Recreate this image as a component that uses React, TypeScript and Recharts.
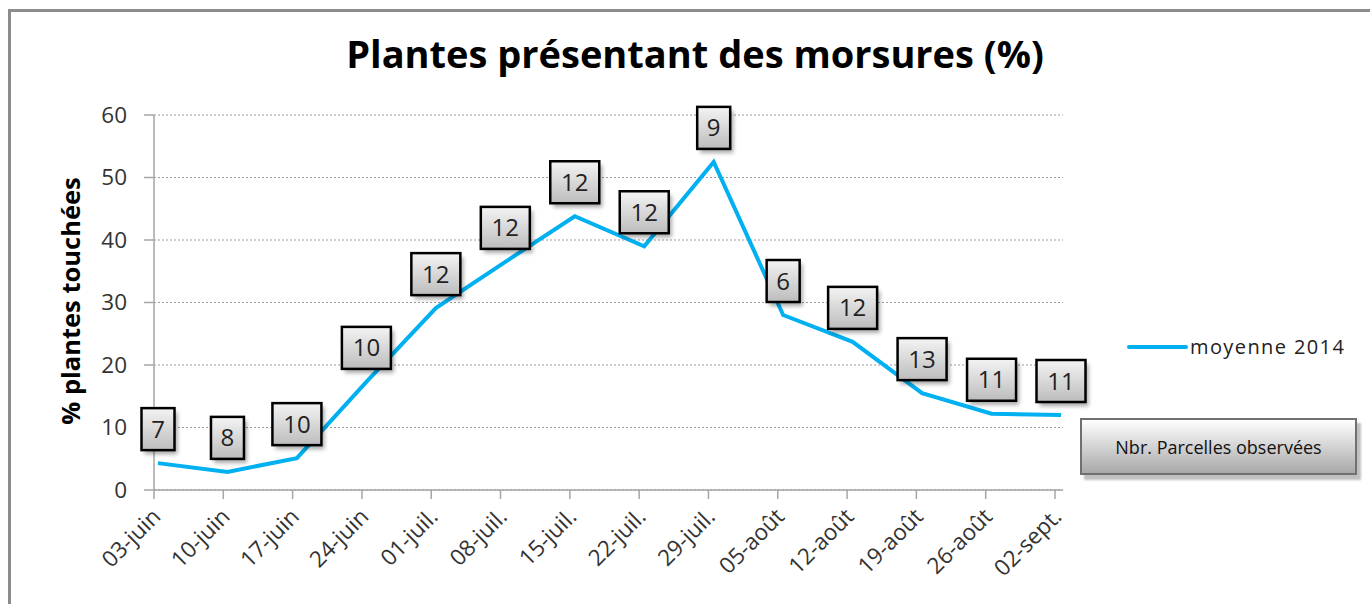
import React from "react";
import { LineChart, Line, XAxis, YAxis, CartesianGrid, LabelList } from "recharts";

const dates = ["03-juin", "10-juin", "17-juin", "24-juin", "01-juil.", "08-juil.", "15-juil.", "22-juil.", "29-juil.", "05-août", "12-août", "19-août", "26-août", "02-sept."];
const moyenne2014 = [4.3, 2.9, 5.1, 17.3, 29.1, 36.5, 43.8, 39.0, 52.5, 28.0, 23.7, 15.5, 12.2, 12.0];
const parcelles = [7, 8, 10, 10, 12, 12, 12, 12, 9, 6, 12, 13, 11, 11];
const yTicks = [0, 10, 20, 30, 40, 50, 60];

const data = dates.map((d, i) => ({ d, v: moyenne2014[i], n: parcelles[i] }));

const FONT = "'Open Sans', 'DejaVu Sans', sans-serif";
const BLUE = "#00b0f0";

const XTick = (props: any) => {
  const { x, y, payload } = props;
  return (
    <text x={x + 8} y={y + 17} transform={`rotate(-45, ${x + 8}, ${y + 17})`} textAnchor="end" fontSize={22.5} fill="#333" fontFamily={FONT}>
      {payload.value}
    </text>
  );
};

const CountBox = (props: any) => {
  const { x, y, value, index } = props;
  const w = String(value).length > 1 ? 49 : 33;
  const h = 42;
  const cx = x;
  const cy = y - 34;
  const gid = `g${index}`;
  const fid = `f${index}`;
  return (
    <g>
      <defs>
        <linearGradient id={gid} x1="0" y1="0" x2="0" y2="1">
          <stop offset="0" stopColor="#f4f4f4" />
          <stop offset="1" stopColor="#bcbcbc" />
        </linearGradient>
        <filter id={fid} x="-30%" y="-30%" width="160%" height="160%">
          <feGaussianBlur stdDeviation="2" />
        </filter>
      </defs>
      <rect x={cx - w / 2 + 3} y={cy - h / 2 + 4} width={w} height={h} fill="#000" opacity={0.35} filter={`url(#${fid})`} />
      <rect x={cx - w / 2} y={cy - h / 2} width={w} height={h} fill={`url(#${gid})`} stroke="#000" strokeWidth={2.5} />
      <text x={cx} y={cy + 8.5} textAnchor="middle" fontSize={24} fill="#222" fontFamily={FONT}>
        {value}
      </text>
    </g>
  );
};

export default function App() {
  return (
    <div style={{ position: "fixed", left: 0, top: 0, width: 1370, height: 604, overflow: "hidden", background: "#fff" }}>
      <div style={{ position: "absolute", left: 8, top: 9, width: 1400, height: 700, borderLeft: "3px solid #8c8c8c", borderTop: "3px solid #8c8c8c" }} />
      <div style={{ position: "absolute", left: 0, top: 27, width: 1390, textAlign: "center", fontFamily: FONT, fontWeight: 700, fontSize: 38, color: "#000" }}>
        Plantes présentant des morsures (%)
      </div>
      <div style={{ position: "absolute", left: 70, top: 301, width: 0, height: 0 }}>
        <div style={{ position: "absolute", transform: "translate(-50%, -50%) rotate(-90deg)", whiteSpace: "nowrap", fontFamily: FONT, fontWeight: 700, fontSize: 25.5, color: "#000" }}>
          % plantes touchées
        </div>
      </div>
      <div style={{ position: "absolute", left: 0, top: 0 }}>
        <LineChart width={1370} height={604} data={data} margin={{ top: 115, right: 307, bottom: 84, left: 60 }}>
          <CartesianGrid horizontal vertical={false} stroke="#9a9a9a" strokeDasharray="2 2" />
          <XAxis xAxisId="main" dataKey="d" interval={0} tick={<XTick />} tickSize={9} height={30} padding={{ left: 0, right: 8 }} axisLine={{ stroke: "#a6a6a6", strokeWidth: 1.5 }} tickLine={{ stroke: "#a6a6a6", strokeWidth: 1.5 }} />
          <XAxis xAxisId="line" dataKey="d" hide height={0} padding={{ left: 4, right: 2 }} />
          <YAxis domain={[0, 60]} ticks={yTicks} width={94} tickSize={10} tickMargin={17} tick={{ fontSize: 22.5, fill: "#333", fontFamily: FONT }} axisLine={{ stroke: "#a6a6a6", strokeWidth: 1.5 }} tickLine={{ stroke: "#a6a6a6", strokeWidth: 1.5 }} />
          <Line xAxisId="line" dataKey="v" name="moyenne 2014" stroke={BLUE} strokeWidth={4} dot={false} isAnimationActive={false}>
            <LabelList dataKey="n" content={<CountBox />} />
          </Line>
        </LineChart>
      </div>
      <div style={{ position: "absolute", left: 1126, top: 333, display: "flex", alignItems: "center", fontFamily: FONT, fontSize: 20, letterSpacing: 1.4, color: "#222" }}>
        <svg width={62} height={8} style={{ marginRight: 2 }}>
          <line x1={3} y1={4} x2={60} y2={4} stroke={BLUE} strokeWidth={4} strokeLinecap="round" />
        </svg>
        <span>moyenne 2014</span>
      </div>
      <div style={{ position: "absolute", left: 1080, top: 418, width: 273, height: 53, border: "2px solid #707070", background: "linear-gradient(#ffffff, #a8a8a8)", boxShadow: "4px 5px 2px rgba(0,0,0,0.25)", display: "flex", alignItems: "center", justifyContent: "center", fontFamily: FONT, fontSize: 18, color: "#111" }}>
        Nbr. Parcelles observées
      </div>
    </div>
  );
}
